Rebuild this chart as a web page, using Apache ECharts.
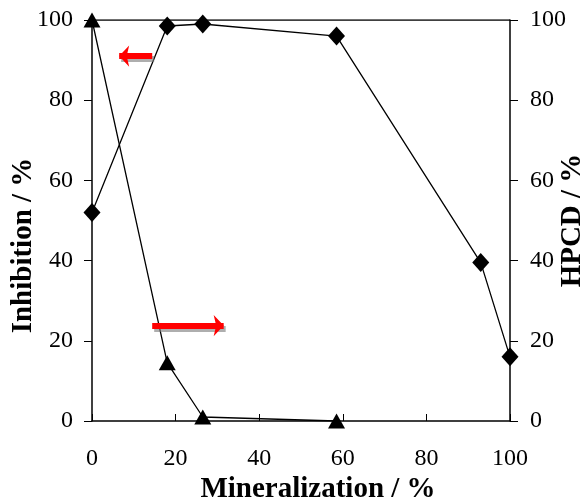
<!DOCTYPE html>
<html>
<head>
<meta charset="utf-8">
<script src="https://cdn.jsdelivr.net/npm/echarts@6/dist/echarts.min.js"></script>
<style>
  html, body { margin: 0; padding: 0; background: #fff; }
  #chart { width: 584px; height: 500px; }
</style>
</head>
<body>
<div id="chart"></div>
<script>
// Mineralization (%) for each series
const inhibX = [0, 18, 26.5, 58.5, 93, 100];
const inhibY = [52, 98.5, 99, 96, 39.5, 16];
const hpcdX = [0, 18, 26.5, 58.5];
const hpcdY = [100, 14.5, 1, 0];
const ticks = [0, 20, 40, 60, 80, 100];

const font = '"Liberation Serif", "Times New Roman", serif';
const pairs = (xs, ys) => xs.map((x, i) => [x, ys[i]]);

const chart = echarts.init(document.getElementById('chart'));

const nameStyle = { fontFamily: font, fontWeight: 'bold', fontSize: 29, color: '#000' };
const labelStyle = { fontFamily: font, fontSize: 24, color: '#000' };

const arrowStyle = {
    color: '#ff0000',
    width: 6,
    type: 'solid',
    shadowColor: 'rgba(120,120,120,0.6)',
    shadowOffsetX: 2,
    shadowOffsetY: 3
};

chart.setOption({
    animation: false,
    grid: { left: 92, right: 74, top: 20, bottom: 79, outerBoundsMode: 'none' },
    xAxis: {
        type: 'value', min: 0, max: 100, interval: 20,
        name: 'Mineralization / %', nameLocation: 'middle', nameGap: 54,
        nameMoveOverlap: false,
        nameTextStyle: Object.assign({ padding: [0, 0, 0, 34] }, nameStyle),
        axisLine: { onZero: false, lineStyle: { color: '#000', width: 1.5 } },
        axisTick: { inside: true, length: 7, lineStyle: { color: '#000' } },
        axisLabel: Object.assign({ margin: 26 }, labelStyle),
        splitLine: { show: false }
    },
    yAxis: [{
        type: 'value', min: 0, max: 100, interval: 20, position: 'left',
        name: 'Inhibition / %', nameLocation: 'middle', nameGap: 54,
        nameMoveOverlap: false,
        nameTextStyle: Object.assign({ padding: [0, 50, 0, 0] }, nameStyle),
        axisLine: { show: true, onZero: false, lineStyle: { color: '#000', width: 1.5 } },
        axisTick: { show: true, length: 8, lineStyle: { color: '#000' } },
        axisLabel: Object.assign({ margin: 19 }, labelStyle),
        splitLine: { show: false }
    }, {
        type: 'value', min: 0, max: 100, interval: 20, position: 'right',
        name: 'HPCD / %', nameLocation: 'middle', nameGap: 48,
        nameMoveOverlap: false,
        nameTextStyle: nameStyle,
        axisLine: { show: true, onZero: false, lineStyle: { color: '#000', width: 1.5 } },
        axisTick: { show: true, length: 8, lineStyle: { color: '#000' } },
        axisLabel: Object.assign({ margin: 20 }, labelStyle),
        splitLine: { show: false }
    }],
    series: [{
        name: 'Inhibition', type: 'line', yAxisIndex: 0,
        data: pairs(inhibX, inhibY),
        symbol: 'diamond', symbolSize: [17, 19],
        itemStyle: { color: '#000' },
        lineStyle: { color: '#000', width: 1.3 },
        markLine: {
            silent: true, symbol: ['none', 'arrow'], symbolSize: [16, 10],
            label: { show: false }, lineStyle: arrowStyle,
            data: [[{ coord: [14.4, 91] }, { coord: [6.5, 91] }]]
        }
    }, {
        name: 'HPCD', type: 'line', yAxisIndex: 1,
        data: pairs(hpcdX, hpcdY),
        symbol: 'triangle', symbolSize: [17, 15],
        itemStyle: { color: '#000' },
        lineStyle: { color: '#000', width: 1.3 },
        markLine: {
            silent: true, symbol: ['none', 'arrow'], symbolSize: [16, 10],
            label: { show: false }, lineStyle: arrowStyle,
            data: [[{ coord: [14.4, 23.8] }, { coord: [31.5, 23.8] }]]
        }
    }, {
        // top frame line
        type: 'line', yAxisIndex: 0, silent: true, symbol: 'none',
        data: [[0, 100], [100, 100]],
        lineStyle: { color: '#000', width: 1.5 }
    }]
});
</script>
</body>
</html>
